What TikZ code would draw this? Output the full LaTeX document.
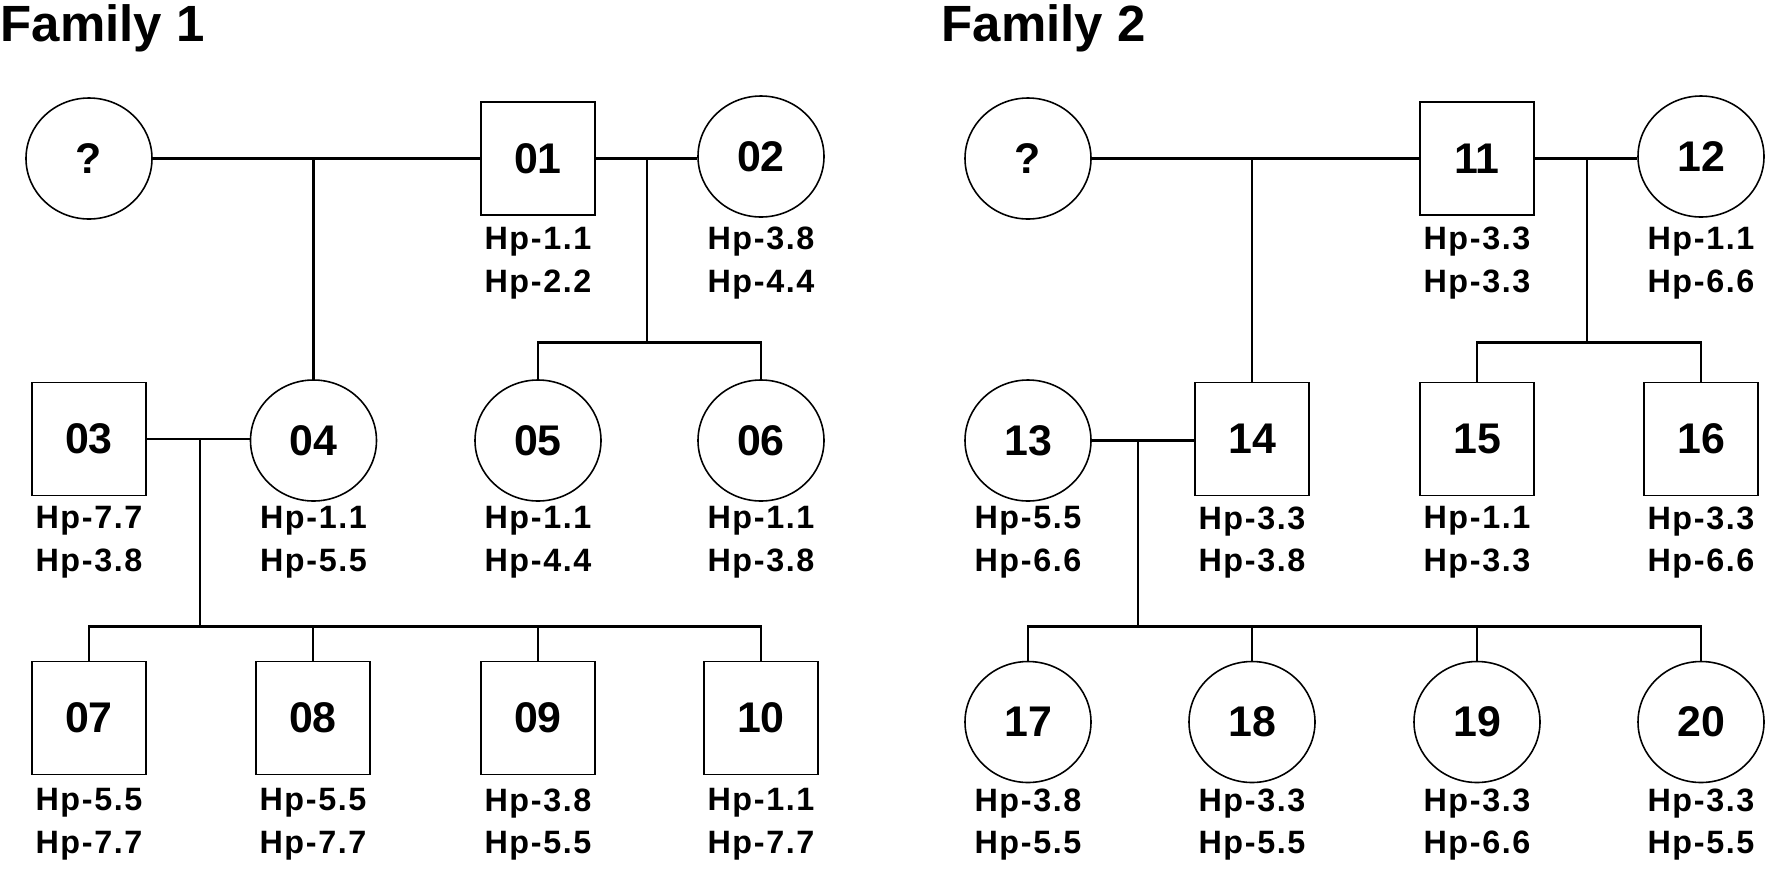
\documentclass[tikz,border=0pt]{standalone}
\usepackage{fontspec}
\setmainfont{Liberation Sans}
\newfontfamily\hpfont[LetterSpace=5]{Liberation Sans}
\usetikzlibrary{shapes.geometric}

\begin{document}
\begin{tikzpicture}[
  female/.style={ellipse,draw,line width=0.45pt,minimum width=1.26cm,minimum height=1.21cm,inner sep=0pt,font=\bfseries\fontsize{12.2}{12}\selectfont},
  male/.style={rectangle,draw,line width=0.45pt,minimum width=1.14cm,minimum height=1.13cm,inner sep=0pt,font=\bfseries\fontsize{12.2}{12}\selectfont},
  hp/.style={anchor=north,inner sep=0pt,align=center,font=\hpfont\bfseries\fontsize{9.2}{12.15}\selectfont},
  title/.style={anchor=base west,inner sep=0pt,font=\bfseries\fontsize{14.5}{16}\selectfont},
  line/.style={line width=0.7pt}]
\useasboundingbox (0,0) rectangle (17.69,-8.71);

% Family 1
\node[title] (t1) at (0.0,-0.417) {Family 1};

\node[female] (q1) at (0.89,-1.585) {?};
\node[male] (n01) at (5.38,-1.585) {01};
\node[female] (n02) at (7.61,-1.565) {02};
\node[hp] (l01) at (5.38,-2.267) {Hp-1.1\\Hp-2.2};
\node[hp] (l02) at (7.61,-2.267) {Hp-3.8\\Hp-4.4};

\node[male] (n03) at (0.89,-4.39) {03};
\node[female] (n04) at (3.135,-4.405) {04};
\node[female] (n05) at (5.38,-4.405) {05};
\node[female] (n06) at (7.61,-4.405) {06};
\node[hp] (l03) at (0.89,-5.06) {Hp-7.7\\Hp-3.8};
\node[hp] (l04) at (3.135,-5.06) {Hp-1.1\\Hp-5.5};
\node[hp] (l05) at (5.38,-5.06) {Hp-1.1\\Hp-4.4};
\node[hp] (l06) at (7.61,-5.06) {Hp-1.1\\Hp-3.8};

\node[male] (n07) at (0.89,-7.18) {07};
\node[male] (n08) at (3.13,-7.18) {08};
\node[male] (n09) at (5.38,-7.18) {09};
\node[male] (n10) at (7.61,-7.18) {10};
\node[hp] (l07) at (0.89,-7.88) {Hp-5.5\\Hp-7.7};
\node[hp] (l08) at (3.13,-7.88) {Hp-5.5\\Hp-7.7};
\node[hp] (l09) at (5.38,-7.88) {Hp-3.8\\Hp-5.5};
\node[hp] (l10) at (7.61,-7.88) {Hp-1.1\\Hp-7.7};

\coordinate (c12) at (6.47,-1.585);
\coordinate (s12) at (6.47,-3.423);
\coordinate (c34) at (2.00,-4.39);
\coordinate (s34) at (2.00,-6.267);

\draw[line] (q1.east) -- (n01.west);
\draw[line] (n01.east) -- (n01.east -| n02.west);
\draw[line] (n04.north) -- (n04.north |- q1.east);
\draw[line] (c12) -- (s12);
\draw[line] (n05.north) |- (s12) -| (n06.north);
\draw[line] (n03.east) -- (n03.east -| n04.west);
\draw[line] (c34) -- (s34);
\draw[line] (n07.north) |- (s34) -| (n10.north);
\draw[line] (n08.north) -- (n08.north |- s34);
\draw[line] (n09.north) -- (n09.north |- s34);

% Family 2
\node[title] (t2) at (9.41,-0.417) {Family 2};

\node[female] (q2) at (10.28,-1.585) {?};
\node[male] (n11) at (14.77,-1.585) {11};
\node[female] (n12) at (17.01,-1.565) {12};
\node[hp] (l11) at (14.77,-2.267) {Hp-3.3\\Hp-3.3};
\node[hp] (l12) at (17.01,-2.267) {Hp-1.1\\Hp-6.6};

\node[female] (n13) at (10.28,-4.405) {13};
\node[male] (n14) at (12.52,-4.39) {14};
\node[male] (n15) at (14.77,-4.39) {15};
\node[male] (n16) at (17.01,-4.39) {16};
\node[hp] (l13) at (10.28,-5.06) {Hp-5.5\\Hp-6.6};
\node[hp] (l14) at (12.52,-5.06) {Hp-3.3\\Hp-3.8};
\node[hp] (l15) at (14.77,-5.06) {Hp-1.1\\Hp-3.3};
\node[hp] (l16) at (17.01,-5.06) {Hp-3.3\\Hp-6.6};

\node[female] (n17) at (10.28,-7.22) {17};
\node[female] (n18) at (12.52,-7.22) {18};
\node[female] (n19) at (14.77,-7.22) {19};
\node[female] (n20) at (17.01,-7.22) {20};
\node[hp] (l17) at (10.28,-7.88) {Hp-3.8\\Hp-5.5};
\node[hp] (l18) at (12.52,-7.88) {Hp-3.3\\Hp-5.5};
\node[hp] (l19) at (14.77,-7.88) {Hp-3.3\\Hp-6.6};
\node[hp] (l20) at (17.01,-7.88) {Hp-3.3\\Hp-5.5};

\coordinate (c1112) at (15.87,-1.585);
\coordinate (s1112) at (15.87,-3.423);
\coordinate (c1314) at (11.38,-4.39);
\coordinate (s1314) at (11.38,-6.267);

\draw[line] (q2.east) -- (n11.west);
\draw[line] (n11.east) -- (n11.east -| n12.west);
\draw[line] (n14.north) -- (n14.north |- q2.east);
\draw[line] (c1112) -- (s1112);
\draw[line] (n15.north) |- (s1112) -| (n16.north);
\draw[line] (n13.east) -- (n13.east -| n14.west);
\draw[line] (c1314) -- (s1314);
\draw[line] (n17.north) |- (s1314) -| (n20.north);
\draw[line] (n18.north) -- (n18.north |- s1314);
\draw[line] (n19.north) -- (n19.north |- s1314);
\end{tikzpicture}
\end{document}
